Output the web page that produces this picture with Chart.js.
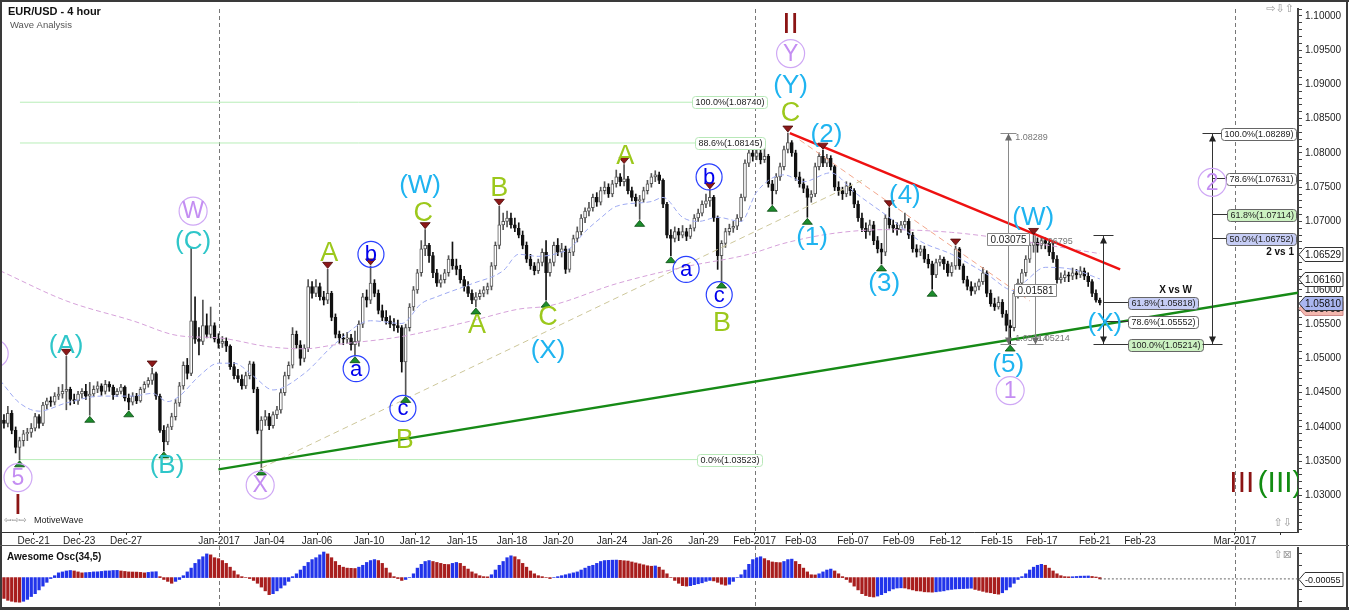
<!DOCTYPE html>
<html><head><meta charset="utf-8">
<script src="https://cdn.jsdelivr.net/npm/chart.js@4.4.1/dist/chart.umd.min.js"></script>
<style>
html,body{margin:0;padding:0;background:#fff;}
#wrap{position:relative;width:1349px;height:610px;overflow:hidden;background:#fff;}
canvas{position:absolute;left:0;}
</style></head><body>
<div id="wrap">
<canvas id="main" width="1349" height="546" style="top:0"></canvas>
<canvas id="osc" width="1349" height="64" style="top:546px"></canvas>
</div>
<script>
// ---------------- DATA (EUR/USD 4 hour, one entry per bar) ----------------
const opens = [1.0450,1.0410,1.0405,1.0420,1.0395,1.0370,1.0380,1.0390,1.0392,1.0398,
1.0415,1.0405,1.0432,1.0438,1.0436,1.0445,1.0448,1.0452,1.0455,1.0440,
1.0438,1.0448,1.0452,1.0445,1.0448,1.0455,1.0460,1.0452,1.0462,1.0458,
1.0447,1.0452,1.0458,1.0442,1.0436,1.0445,1.0438,1.0455,1.0462,1.0468,
1.0478,1.0445,1.0395,1.0378,1.0400,1.0415,1.0435,1.0460,1.0490,1.0478,
1.0555,1.0528,1.0525,1.0548,1.0535,1.0548,1.0528,1.0522,1.0525,1.0518,
1.0488,1.0475,1.0470,1.0460,1.0475,1.0492,1.0455,1.0395,1.0410,1.0415,
1.0402,1.0418,1.0425,1.0450,1.0475,1.0490,1.0535,1.0520,1.0500,1.0515,
1.0605,1.0595,1.0605,1.0590,1.0585,1.0595,1.0560,1.0535,1.0530,1.0528,
1.0530,1.0520,1.0525,1.0550,1.0590,1.0585,1.0610,1.0595,1.0570,1.0560,
1.0555,1.0550,1.0548,1.0545,1.0495,1.0545,1.0575,1.0600,1.0625,1.0660,
1.0665,1.0650,1.0625,1.0610,1.0615,1.0625,1.0645,1.0635,1.0630,1.0615,
1.0605,1.0595,1.0585,1.0590,1.0595,1.0600,1.0605,1.0635,1.0665,1.0695,
1.0700,1.0705,1.0695,1.0690,1.0680,1.0665,1.0645,1.0635,1.0628,1.0640,
1.0655,1.0625,1.0640,1.0665,1.0655,1.0660,1.0630,1.0655,1.0675,1.0685,
1.0705,1.0715,1.0720,1.0735,1.0728,1.0745,1.0750,1.0740,1.0755,1.0765,
1.0758,1.0762,1.0745,1.0735,1.0730,1.0732,1.0745,1.0755,1.0765,1.0768,
1.0760,1.0725,1.0680,1.0675,1.0685,1.0680,1.0685,1.0678,1.0690,1.0705,
1.0712,1.0725,1.0730,1.0735,1.0705,1.0650,1.0668,1.0685,1.0690,1.0693,
1.0705,1.0735,1.0785,1.0800,1.0795,1.0800,1.0790,1.0795,1.0755,1.0745,
1.0765,1.0780,1.0805,1.0815,1.0800,1.0765,1.0755,1.0748,1.0735,1.0740,
1.0780,1.0795,1.0785,1.0792,1.0780,1.0750,1.0745,1.0740,1.0752,1.0745,
1.0725,1.0705,1.0690,1.0685,1.0695,1.0672,1.0660,1.0655,1.0705,1.0695,
1.0690,1.0688,1.0695,1.0700,1.0680,1.0660,1.0655,1.0660,1.0645,1.0638,
1.0622,1.0640,1.0645,1.0638,1.0625,1.0635,1.0660,1.0635,1.0615,1.0605,
1.0598,1.0605,1.0612,1.0625,1.0595,1.0580,1.0575,1.0582,1.0565,1.0548,
1.0545,1.0595,1.0610,1.0625,1.0645,1.0665,1.0670,1.0665,1.0672,1.0668,
1.0655,1.0645,1.0615,1.0618,1.0622,1.0620,1.0625,1.0622,1.0628,1.0620,
1.0612,1.0595,1.0585];

const highs = [1.0460,1.0418,1.0430,1.0424,1.0400,1.0385,1.0395,1.0398,1.0405,1.0420,
1.0418,1.0436,1.0442,1.0444,1.0450,1.0458,1.0462,1.0503,1.0458,1.0448,
1.0452,1.0456,1.0462,1.0465,1.0460,1.0466,1.0463,1.0468,1.0466,1.0461,
1.0456,1.0462,1.0460,1.0448,1.0450,1.0449,1.0458,1.0466,1.0472,1.0486,
1.0480,1.0448,1.0402,1.0404,1.0420,1.0440,1.0465,1.0495,1.0500,1.0662,
1.0590,1.0545,1.0585,1.0565,1.0575,1.0552,1.0536,1.0532,1.0530,1.0520,
1.0494,1.0484,1.0476,1.0480,1.0496,1.0495,1.0458,1.0415,1.0424,1.0420,
1.0422,1.0430,1.0455,1.0480,1.0495,1.0545,1.0540,1.0526,1.0520,1.0615,
1.0612,1.0615,1.0610,1.0598,1.0630,1.0598,1.0565,1.0540,1.0536,1.0538,
1.0535,1.0540,1.0555,1.0595,1.0600,1.0635,1.0615,1.0600,1.0578,1.0570,
1.0562,1.0558,1.0556,1.0548,1.0550,1.0580,1.0605,1.0630,1.0672,1.0688,
1.0668,1.0655,1.0630,1.0622,1.0630,1.0650,1.0670,1.0645,1.0636,1.0620,
1.0612,1.0600,1.0596,1.0600,1.0605,1.0610,1.0640,1.0670,1.0722,1.0712,
1.0715,1.0712,1.0705,1.0698,1.0686,1.0670,1.0652,1.0640,1.0645,1.0660,
1.0672,1.0645,1.0670,1.0675,1.0668,1.0664,1.0660,1.0680,1.0692,1.0710,
1.0720,1.0728,1.0740,1.0742,1.0750,1.0758,1.0755,1.0760,1.0775,1.0770,
1.0783,1.0766,1.0750,1.0740,1.0738,1.0750,1.0760,1.0770,1.0774,1.0772,
1.0762,1.0728,1.0688,1.0692,1.0690,1.0694,1.0690,1.0695,1.0710,1.0718,
1.0730,1.0740,1.0746,1.0738,1.0708,1.0672,1.0690,1.0696,1.0700,1.0710,
1.0740,1.0790,1.0812,1.0815,1.0810,1.0806,1.0812,1.0798,1.0760,1.0770,
1.0785,1.0810,1.0829,1.0818,1.0804,1.0772,1.0762,1.0752,1.0745,1.0785,
1.0800,1.0804,1.0798,1.0796,1.0782,1.0758,1.0750,1.0758,1.0756,1.0748,
1.0730,1.0712,1.0698,1.0702,1.0700,1.0678,1.0668,1.0710,1.0720,1.0702,
1.0698,1.0700,1.0712,1.0704,1.0684,1.0666,1.0665,1.0664,1.0652,1.0642,
1.0645,1.0650,1.0648,1.0642,1.0640,1.0664,1.0662,1.0638,1.0620,1.0612,
1.0610,1.0616,1.0633,1.0628,1.0600,1.0588,1.0590,1.0586,1.0570,1.0556,
1.0600,1.0616,1.0630,1.0650,1.0670,1.06795,1.0676,1.0678,1.0676,1.0672,
1.0670,1.0650,1.0625,1.0628,1.0626,1.0632,1.0630,1.0634,1.0632,1.0625,
1.0615,1.0600,1.0588];

const lows = [1.0405,1.0398,1.0400,1.0390,1.0362,1.0352,1.0372,1.0380,1.0385,1.0394,
1.0398,1.0402,1.0426,1.0430,1.0432,1.0440,1.0442,1.0425,1.0432,1.0434,
1.0433,1.0442,1.0440,1.0417,1.0444,1.0450,1.0446,1.0448,1.0452,1.0440,
1.0444,1.0448,1.0438,1.0425,1.0432,1.0434,1.0436,1.0450,1.0458,1.0462,
1.0440,1.0392,1.0365,1.0374,1.0396,1.0410,1.0430,1.0455,1.0470,1.0475,
1.0522,1.0505,1.0520,1.0530,1.0530,1.0524,1.0515,1.0516,1.0510,1.0484,
1.0470,1.0465,1.0455,1.0456,1.0470,1.0450,1.0390,1.0340,1.0402,1.0396,
1.0398,1.0412,1.0420,1.0446,1.0470,1.0486,1.0515,1.0490,1.0495,1.0510,
1.0588,1.0590,1.0585,1.0578,1.0580,1.0555,1.0530,1.0522,1.0520,1.0522,
1.0512,1.0504,1.0518,1.0545,1.0575,1.0580,1.0590,1.0565,1.0555,1.0550,
1.0545,1.0540,1.0538,1.0480,1.0446,1.0540,1.0570,1.0595,1.0620,1.0650,
1.0640,1.0618,1.0605,1.0604,1.0610,1.0620,1.0630,1.0622,1.0610,1.0598,
1.0590,1.0580,1.0575,1.0586,1.0590,1.0594,1.0600,1.0630,1.0660,1.0688,
1.0692,1.0690,1.0685,1.0676,1.0660,1.0640,1.0630,1.0622,1.0624,1.0635,
1.0585,1.0620,1.0635,1.0650,1.0648,1.0624,1.0626,1.0650,1.0670,1.0680,
1.0698,1.0708,1.0715,1.0722,1.0724,1.0740,1.0735,1.0736,1.0750,1.0752,
1.0752,1.0740,1.0730,1.0722,1.0703,1.0728,1.0740,1.0750,1.0758,1.0755,
1.0720,1.0676,1.0650,1.0670,1.0672,1.0676,1.0672,1.0675,1.0686,1.0700,
1.0708,1.0720,1.0722,1.0700,1.0630,1.0613,1.0662,1.0680,1.0684,1.0688,
1.0700,1.0730,1.0780,1.0788,1.0790,1.0784,1.0786,1.0750,1.0725,1.0740,
1.0760,1.0775,1.0800,1.0795,1.0760,1.0750,1.0742,1.0706,1.0728,1.0736,
1.0775,1.0780,1.0780,1.0775,1.0745,1.0738,1.0732,1.0736,1.0738,1.0720,
1.0700,1.0685,1.0675,1.0680,1.0666,1.0654,1.0638,1.0650,1.0690,1.0684,
1.0680,1.0684,1.0690,1.0675,1.0655,1.0648,1.0650,1.0640,1.0632,1.0601,
1.0618,1.0635,1.0630,1.0620,1.0620,1.0630,1.0630,1.0610,1.0600,1.0592,
1.0594,1.0600,1.0608,1.0590,1.0576,1.0570,1.0572,1.0560,1.0540,1.0521,
1.0540,1.0588,1.0604,1.0620,1.0640,1.0655,1.0655,1.0660,1.0660,1.0650,
1.0640,1.0610,1.0610,1.0612,1.0612,1.0615,1.0616,1.0618,1.0615,1.0605,
1.0590,1.0582,1.0578];

const closes = [1.0410,1.0405,1.0420,1.0395,1.0370,1.0380,1.0390,1.0392,1.0398,1.0415,
1.0405,1.0432,1.0438,1.0436,1.0445,1.0448,1.0452,1.0455,1.0440,1.0438,
1.0448,1.0452,1.0445,1.0448,1.0455,1.0460,1.0452,1.0462,1.0458,1.0447,
1.0452,1.0458,1.0442,1.0436,1.0445,1.0438,1.0455,1.0462,1.0468,1.0478,
1.0445,1.0395,1.0378,1.0400,1.0415,1.0435,1.0460,1.0490,1.0478,1.0555,
1.0528,1.0525,1.0548,1.0535,1.0548,1.0528,1.0522,1.0525,1.0518,1.0488,
1.0475,1.0470,1.0460,1.0475,1.0492,1.0455,1.0395,1.0410,1.0415,1.0402,
1.0418,1.0425,1.0450,1.0475,1.0490,1.0535,1.0520,1.0500,1.0515,1.0605,
1.0595,1.0605,1.0590,1.0585,1.0595,1.0560,1.0535,1.0530,1.0528,1.0530,
1.0520,1.0525,1.0550,1.0590,1.0585,1.0610,1.0595,1.0570,1.0560,1.0555,
1.0550,1.0548,1.0545,1.0495,1.0545,1.0575,1.0600,1.0625,1.0660,1.0665,
1.0650,1.0625,1.0610,1.0615,1.0625,1.0645,1.0635,1.0630,1.0615,1.0605,
1.0595,1.0585,1.0590,1.0595,1.0600,1.0605,1.0635,1.0665,1.0695,1.0700,
1.0705,1.0695,1.0690,1.0680,1.0665,1.0645,1.0635,1.0628,1.0640,1.0655,
1.0625,1.0640,1.0665,1.0655,1.0660,1.0630,1.0655,1.0675,1.0685,1.0705,
1.0715,1.0720,1.0735,1.0728,1.0745,1.0750,1.0740,1.0755,1.0765,1.0758,
1.0762,1.0745,1.0735,1.0730,1.0732,1.0745,1.0755,1.0765,1.0768,1.0760,
1.0725,1.0680,1.0675,1.0685,1.0680,1.0685,1.0678,1.0690,1.0705,1.0712,
1.0725,1.0730,1.0735,1.0705,1.0650,1.0668,1.0685,1.0690,1.0693,1.0705,
1.0735,1.0785,1.0800,1.0795,1.0800,1.0790,1.0795,1.0755,1.0745,1.0765,
1.0780,1.0805,1.0815,1.0800,1.0765,1.0755,1.0748,1.0735,1.0740,1.0780,
1.0795,1.0785,1.0792,1.0780,1.0750,1.0745,1.0740,1.0752,1.0745,1.0725,
1.0705,1.0690,1.0685,1.0695,1.0672,1.0660,1.0655,1.0705,1.0695,1.0690,
1.0688,1.0695,1.0700,1.0680,1.0660,1.0655,1.0660,1.0645,1.0638,1.0622,
1.0640,1.0645,1.0638,1.0625,1.0635,1.0660,1.0635,1.0615,1.0605,1.0598,
1.0605,1.0612,1.0625,1.0595,1.0580,1.0575,1.0582,1.0565,1.0548,1.0545,
1.0595,1.0610,1.0625,1.0645,1.0665,1.0670,1.0665,1.0672,1.0668,1.0655,
1.0645,1.0615,1.0618,1.0622,1.0620,1.0625,1.0622,1.0628,1.0620,1.0612,
1.0595,1.0585,1.0581];

// Awesome Oscillator (34,5), one value per bar
const aoValues = [-0.0080,-0.0088,-0.0096,-0.0100,-0.0103,-0.0104,-0.0100,-0.0092,-0.0080,-0.0068,
-0.0052,-0.0036,-0.0020,-0.0004,0.0008,0.0020,0.0024,0.0028,0.0030,0.0028,
0.0024,0.0020,0.0021,0.0022,0.0024,0.00244,0.0026,0.0028,0.00284,0.0030,
0.00304,0.0028,0.0026,0.0024,0.00236,0.00232,0.0022,0.0020,0.0022,0.0024,
0.00248,0.0004,-0.0008,-0.0016,-0.0024,-0.0016,-0.0008,0.0008,0.0024,0.0040,
0.0060,0.0076,0.0088,0.0100,0.0096,0.0084,0.0080,0.0072,0.0060,0.0044,
0.0028,0.0012,0.0004,0.0000,-0.0004,-0.0012,-0.0024,-0.0040,-0.0056,-0.0072,
-0.0068,-0.0056,-0.0044,-0.0032,-0.0016,0.0004,0.0016,0.0032,0.0048,0.0064,
0.0076,0.0084,0.0096,0.0108,0.0100,0.0084,0.0068,0.0052,0.0044,0.0040,
0.00392,0.00384,0.0044,0.0052,0.0064,0.0072,0.0076,0.0072,0.0060,0.0040,
0.0020,0.0004,-0.0004,-0.0012,-0.0008,0.0000,0.0016,0.0040,0.0056,0.0068,
0.0072,0.0068,0.0064,0.0060,0.0056,0.00552,0.0060,0.0064,0.0060,0.0048,
0.0036,0.0024,0.0016,0.0008,0.0004,0.00032,0.0012,0.0032,0.0052,0.0068,
0.0084,0.0092,0.0088,0.0076,0.0060,0.0044,0.0028,0.0016,0.0008,0.0004,
0.0000,-0.0004,0.0000,0.0004,0.0008,0.0012,0.0016,0.0020,0.0024,0.0032,
0.0040,0.0048,0.0052,0.0060,0.0068,0.0072,0.00728,0.00736,0.0074,0.00728,
0.00712,0.0070,0.0066,0.0062,0.0058,0.0054,0.0050,0.0048,0.00492,0.0044,
0.0032,0.0016,0.0000,-0.0012,-0.0024,-0.0034,-0.0036,-0.0034,-0.0030,-0.0026,
-0.0022,-0.0016,-0.0012,-0.0014,-0.0020,-0.0028,-0.0032,-0.0028,-0.0016,0.0000,
0.0012,0.0032,0.0056,0.0076,0.0084,0.0088,0.0080,0.0072,0.0066,0.0064,
0.00632,0.0068,0.0076,0.0078,0.0068,0.0056,0.0040,0.0024,0.0012,0.00112,
0.0016,0.0024,0.0032,0.0036,0.0028,0.0016,0.0004,-0.0008,-0.0020,-0.0036,
-0.0052,-0.0068,-0.0076,-0.0080,-0.0082,-0.0078,-0.0072,-0.0064,-0.0056,-0.0048,
-0.0044,-0.00432,-0.0044,-0.0048,-0.0052,-0.0056,-0.00568,-0.0060,-0.00608,-0.00616,
-0.0060,-0.0058,-0.0056,-0.0052,-0.0050,-0.0048,-0.00472,-0.00464,-0.00456,-0.00448,
-0.0050,-0.0054,-0.0058,-0.0062,-0.0064,-0.0068,-0.0070,-0.0064,-0.0052,-0.0040,
-0.0024,-0.0008,0.0004,0.0016,0.0032,0.0044,0.0052,0.0056,0.0052,0.0040,
0.0028,0.0016,0.0008,0.0004,0.00032,0.00036,0.00048,0.0006,0.00064,0.00068,
0.00048,0.00024,-0.00055];

// Moving averages (bar index / value)
const fastMaBars = [0,5,10,17,26,34,39,43,46,51,56,60,65,70,78,86,95,103,108,112,121,129,133,138,144,146,150,154,158,167,170,175,179,184,190,194,201,206,213,219,227,236,244,253,260,263,268,275,282];
const fastMaVals = [1.0468,1.0435,1.0423,1.0435,1.0445,1.0445,1.0449,1.0437,1.0445,1.0474,1.0493,1.0493,1.0474,1.0454,1.0478,1.0522,1.0555,1.0551,1.0580,1.0590,1.0609,1.0628,1.0652,1.0649,1.0655,1.0660,1.0685,1.0705,1.0722,1.0729,1.0735,1.0706,1.0700,1.0706,1.0700,1.0743,1.0768,1.0758,1.0771,1.0743,1.0710,1.0671,1.0652,1.0623,1.0599,1.0613,1.0633,1.0630,1.0616];
const slowMaBars = [0,17,34,46,56,69,78,86,103,121,133,141,158,175,192,201,213,227,244,262,282];
const slowMaVals = [1.0628,1.0584,1.0555,1.0533,1.0530,1.0517,1.0514,1.0520,1.0532,1.0555,1.0572,1.0577,1.0609,1.0633,1.0652,1.0668,1.0682,1.0688,1.0684,1.0671,1.0653];

// x axis ticks (position in bars, label)
const xTickPos = [8.6,20.3,32.3,56.15,69.0,81.3,94.6,106.4,118.5,131.3,143.1,156.9,168.5,180.4,193.5,205.3,218.7,230.4,242.4,255.6,267.1,280.7,292.3,316.6,328.4];
const xTickLabels = ['Dec-21','Dec-23','Dec-27','Jan-2017','Jan-04','Jan-06','Jan-10','Jan-12','Jan-15','Jan-18','Jan-20','Jan-24','Jan-26','Jan-29','Feb-2017','Feb-03','Feb-07','Feb-09','Feb-12','Feb-15','Feb-17','Feb-21','Feb-23','Mar-2017',''];
const monthLines = [56.15,193.5,316.6];
// y axis: labelled range
const yLabelRange = [1.030,1.100];

// trend lines [bar, price]
const greenTrend = [[56,1.0338],[332.8,1.0596]];
const redTrend = [[202.5,1.0829],[287.2,1.0630]];
const tanDashed = [[67,1.0340],[221,1.0760]];
const salmonDashed = [[205,1.0819],[264,1.0584]];

// Fibonacci levels
const fibLeftLevels = [1.08740,1.08145,1.03523];
const fibLeftText = ['100.0%(1.08740)','88.6%(1.08145)','0.0%(1.03523)'];
const fibLeftSpan = [5.1,178.7,187.1];   // line start, line end, label centre
const fib21Levels = [1.08289,1.07631,1.07114,1.06752];
const fib21Text = ['100.0%(1.08289)','78.6%(1.07631)','61.8%(1.07114)','50.0%(1.06752)'];
const fib21Fill = ['#ffffff','#ffffff','#ccf2c2','#c6cdf5'];
const fib21Range = [310.8,1.08289,1.05214];
const fibXWLevels = [1.05818,1.05552,1.05214];
const fibXWText = ['61.8%(1.05818)','78.6%(1.05552)','100.0%(1.05214)'];
const fibXWFill = ['#c6cdf5','#ffffff','#ccf2c2'];
const fibXWRange = [282.8,1.06795,1.05214,289.2];
const measureLines = [[258.5,1.08289,1.05214],[265.4,1.06795,1.05214]];
const measureBoxes = [[258.5,1.0674,'0.03075'],[265.4,1.0600,'0.01581']];
const axisMarks = [1.06529,1.06160,1.05810];
const axisMarkFill = ['#ffffff','#ffffff','#aab6f0'];

// wave pivots
const highMarks = [17,39,84,95,109,128,160,182,202,211,228,245,265];
const lowMarks = [5,23,33,42,67,91,104,122,140,164,172,185,198,207,226,239,259];

// wave labels [text, bar, price, style]
const waveLabels = [
 ['I',4.6,1.0287,'brown'],['II',202.7,1.0988,'brown'],['III',318.4,1.0318,'brown'],['(III)',328.2,1.0318,'green'],
 ['5',4.6,1.0326,'violet'],['W',49.5,1.0715,'violet'],['X',66.7,1.0315,'violet'],['Y',202.7,1.0945,'violet'],
 ['1',259.0,1.0453,'violet'],['2',310.8,1.0757,'violet'],['',-1.5,1.0507,'violet'],
 ['(A)',16.9,1.0520,'teal'],['(B)',42.8,1.0344,'teal'],['(C)',49.5,1.0671,'teal'],
 ['(W)',107.7,1.0754,'sky'],['(X)',140.5,1.0513,'sky'],['(Y)',202.7,1.0900,'sky'],['(1)',208.2,1.0678,'sky'],
 ['(2)',211.9,1.0828,'sky'],['(3)',226.7,1.0611,'sky'],['(4)',232.0,1.0739,'sky'],['(5)',258.5,1.0492,'sky'],
 ['(W)',264.9,1.0706,'sky'],['(X)',283.3,1.0552,'sky'],
 ['A',84.4,1.0655,'lime'],['B',103.8,1.0382,'lime'],['C',108.5,1.0713,'lime'],['A',122.3,1.0549,'lime'],
 ['B',128.0,1.0749,'lime'],['C',140.5,1.0561,'lime'],['A',160.3,1.0796,'lime'],['B',185.1,1.0552,'lime'],['C',202.7,1.0859,'lime'],
 ['a',91.3,1.0485,'blue'],['b',95.1,1.0652,'blue'],['c',103.3,1.0427,'blue'],
 ['a',175.9,1.0630,'blue'],['b',181.8,1.0765,'blue'],['c',184.4,1.0593,'blue']
];

// ---------------- RENDERING ----------------
const FONT = "'Liberation Sans', Arial, sans-serif";
const X_MIN = 0.5, X_MAX = 332.8, Y_MIN = 1.02466, Y_MAX = 1.10101;
const waveStyles = {
  brown:{color:'#8b1414',font:'30px '+FONT},
  green:{color:'#128c12',font:'30px '+FONT},
  violet:{color:'#c48ef2',ring:'#cfa8f5',r:14,font:'23px '+FONT},
  teal:{color:'#2fc6c9',font:'26px '+FONT},
  sky:{color:'#1fb4f0',font:'26px '+FONT},
  lime:{color:'#9cc81c',font:'27px '+FONT},
  blue:{color:'#0000ee',ring:'#2a40ff',r:13,font:'22px '+FONT}
};

const idx = opens.map((_, i) => i);
const isUp = idx.map(i => closes[i] >= opens[i]);
const pts = arr => arr.map(p => ({x:p[0], y:p[1]}));

function line(ctx,x1,y1,x2,y2){ctx.beginPath();ctx.moveTo(x1,y1);ctx.lineTo(x2,y2);ctx.stroke();}
function roundRect(ctx,x,y,w,h,r){ctx.beginPath();ctx.moveTo(x+r,y);ctx.arcTo(x+w,y,x+w,y+h,r);ctx.arcTo(x+w,y+h,x,y+h,r);ctx.arcTo(x,y+h,x,y,r);ctx.arcTo(x,y,x+w,y,r);ctx.closePath();}
function boxText(ctx,text,x,y,align,fill,stroke,r,size){
  ctx.font=(size||9)+'px '+FONT;
  const w=ctx.measureText(text).width+6, h=12;
  const left = align==='left'?x:(align==='right'?x-w:x-w/2);
  roundRect(ctx,Math.round(left)+0.5,Math.round(y-h/2)+0.5,Math.round(w),h,r);
  ctx.fillStyle=fill;ctx.fill();ctx.strokeStyle=stroke;ctx.lineWidth=1;ctx.stroke();
  ctx.fillStyle='#222';ctx.textAlign='left';ctx.textBaseline='middle';
  ctx.fillText(text,Math.round(left)+3.5,Math.round(y)+1);
}
function arrowHead(ctx,x,y,dir){ // dir -1 up, +1 down; tip at y
  ctx.beginPath();ctx.moveTo(x,y);ctx.lineTo(x-3.5,y-dir*7);ctx.lineTo(x+3.5,y-dir*7);ctx.closePath();ctx.fill();
}
function tri(ctx,cx,tipY,down){
  ctx.beginPath();
  if(down){ctx.moveTo(cx-5,tipY-6);ctx.lineTo(cx+5,tipY-6);ctx.lineTo(cx,tipY);}
  else{ctx.moveTo(cx-5,tipY+6);ctx.lineTo(cx+5,tipY+6);ctx.lineTo(cx,tipY);}
  ctx.closePath();ctx.fillStyle=down?'#8c1818':'#1c8c2c';ctx.fill();
  ctx.strokeStyle=down?'#4a0808':'#0a4a12';ctx.lineWidth=0.8;ctx.stroke();
}
function axisTag(ctx,x0,y,text,fill,stroke,size){
  ctx.beginPath();ctx.moveTo(x0,y);ctx.lineTo(x0+6,y-7);ctx.lineTo(x0+44,y-7);ctx.lineTo(x0+44,y+7);ctx.lineTo(x0+6,y+7);ctx.closePath();
  ctx.fillStyle=fill;ctx.fill();ctx.strokeStyle=stroke;ctx.lineWidth=1;ctx.stroke();
  ctx.fillStyle='#111';ctx.font=(size||10)+'px '+FONT;ctx.textAlign='left';ctx.textBaseline='middle';ctx.fillText(text,x0+6,y+1);
}

const mainAnno = {
  id:'mainAnno',
  beforeDatasetsDraw(chart){
    const {ctx,chartArea:a,scales:{x}}=chart;
    ctx.save();
    ctx.strokeStyle='#777';ctx.lineWidth=1;ctx.setLineDash([4,3]);
    monthLines.forEach(v=>{const px=Math.round(x.getPixelForValue(v))+0.5;line(ctx,px,a.top,px,a.bottom);});
    ctx.restore();
  },
  afterDatasetsDraw(chart){
    const {ctx,chartArea:a,scales:{x,y}}=chart;
    const X=v=>x.getPixelForValue(v), Y=v=>y.getPixelForValue(v);
    ctx.save();
    ctx.beginPath();ctx.rect(a.left,a.top,a.right-a.left,a.bottom-a.top);ctx.clip();

    fibLeftLevels.forEach((lv,k)=>boxText(ctx,fibLeftText[k],X(fibLeftSpan[2]),Y(lv),'center','#ffffff','#b8e8b8',3,9));

    ctx.strokeStyle='#8a8a8a';ctx.fillStyle='#6a6a6a';ctx.lineWidth=1;
    measureLines.forEach((m,k)=>{
      const px=Math.round(X(m[0]))+0.5, pt=Math.round(Y(m[1]))+0.5, pb=Math.round(Y(m[2]))+0.5;
      line(ctx,px,pt,px,pb);
      line(ctx,px-8,pb,px+8,pb);
      arrowHead(ctx,px,pb,1);
      if(k===0){line(ctx,px-8,pt,px+8,pt);ctx.fillStyle='#6a6a6a';arrowHead(ctx,px,pt,-1);}
    });
    ctx.font='9px '+FONT;ctx.fillStyle='#777';ctx.textAlign='left';ctx.textBaseline='middle';
    ctx.fillText(measureLines[0][1].toFixed(5),X(measureLines[0][0])+7,Y(measureLines[0][1])+4);
    ctx.fillText(measureLines[1][1].toFixed(5),X(measureLines[1][0])+5,Y(measureLines[1][1])+6);
    ctx.fillText(measureLines[0][2].toFixed(5),X(measureLines[0][0])+7,Y(measureLines[0][2])-5);
    ctx.fillText(measureLines[1][2].toFixed(5),X(measureLines[1][0])+2,Y(measureLines[1][2])-5);
    measureBoxes.forEach(b=>boxText(ctx,b[2],X(b[0]),Y(b[1]),'center','#ffffff','#888888',0,10));

    ctx.strokeStyle='#333';ctx.fillStyle='#222';ctx.lineWidth=1;
    {
      const px=Math.round(X(fibXWRange[0]))+0.5, pt=Math.round(Y(fibXWRange[1]))+0.5, pb=Math.round(Y(fibXWRange[2]))+0.5, bx=X(fibXWRange[3]);
      line(ctx,px,pt,px,pb);line(ctx,px-10,pt,px+10,pt);line(ctx,px-10,pb,px+10,pb);
      arrowHead(ctx,px,pt+1,-1);arrowHead(ctx,px,pb-1,1);
      fibXWLevels.forEach((lv,k)=>{const py=Math.round(Y(lv))+0.5;ctx.strokeStyle='#333';line(ctx,px,py,bx,py);
        boxText(ctx,fibXWText[k],bx,py,'left',fibXWFill[k],'#666',3,9);});
      ctx.font='bold 10px '+FONT;ctx.fillStyle='#111';ctx.textAlign='right';ctx.textBaseline='middle';
      ctx.fillText('X vs W',bx+64,Y(fibXWLevels[0])-12);
    }
    {
      ctx.strokeStyle='#333';ctx.fillStyle='#222';
      const px=Math.round(X(fib21Range[0]))+0.5, pt=Math.round(Y(fib21Range[1]))+0.5, pb=Math.round(Y(fib21Range[2]))+0.5, rx=a.right-2;
      line(ctx,px,pt,px,pb);line(ctx,px-10,pt,px+10,pt);line(ctx,px-10,pb,px+10,pb);
      arrowHead(ctx,px,pt+1,-1);arrowHead(ctx,px,pb-1,1);
      fib21Levels.forEach((lv,k)=>{const py=Math.round(Y(lv))+0.5;ctx.strokeStyle='#333';line(ctx,px,py,rx-60,py);
        boxText(ctx,fib21Text[k],rx,py,'right',fib21Fill[k],'#666',3,9);});
      ctx.font='bold 10px '+FONT;ctx.fillStyle='#111';ctx.textAlign='right';ctx.textBaseline='middle';
      ctx.fillText('2 vs 1',rx-2,Y(fib21Levels[3])+14);
    }

    highMarks.forEach(i=>tri(ctx,X(i),Y(highs[i])-1,true));
    lowMarks.forEach(i=>tri(ctx,X(i),Y(lows[i])+1,false));

    waveLabels.forEach(w=>{
      const s=waveStyles[w[3]], px=X(w[1]), py=Y(w[2]);
      if(s.r){ctx.beginPath();ctx.arc(px,py,s.r,0,Math.PI*2);ctx.strokeStyle=s.ring;ctx.lineWidth=1.2;ctx.stroke();}
      ctx.font=s.font;ctx.fillStyle=s.color;ctx.textAlign='center';ctx.textBaseline='middle';
      ctx.fillText(w[0],px,py+1);
    });
    ctx.restore();
  },
  afterDraw(chart){
    const {ctx,chartArea:a,scales:{y}}=chart;
    ctx.save();
    ctx.textAlign='left';ctx.textBaseline='middle';
    ctx.font='bold 11px '+FONT;ctx.fillStyle='#111';ctx.fillText('EUR/USD - 4 hour',8,12);
    ctx.font='9.5px '+FONT;ctx.fillStyle='#555';ctx.fillText('Wave Analysis',10,25);
    ctx.font='9px '+FONT;ctx.fillStyle='#222';ctx.fillText('MotiveWave',34,521);
    ctx.font='9px DejaVu Sans';ctx.fillStyle='#888';ctx.fillText('\u21E6\u21E8\u21E8',4,521);
    ctx.font='11px DejaVu Sans';ctx.fillStyle='#999';ctx.textAlign='right';
    ctx.fillText('\u21E8\u21E9\u21E7',a.right-4,9);
    ctx.fillText('\u21E7\u21E9',a.right-6,523);
    const yLast=Math.round(y.getPixelForValue(axisMarks[2]))+0.5;
    axisTag(ctx,a.right+1,yLast+5,'1.05705','#f3b7ae','#c88');
    axisMarks.forEach((v,k)=>axisTag(ctx,a.right+1,Math.round(y.getPixelForValue(v))+0.5,v.toFixed(5),axisMarkFill[k],'#333'));
    ctx.fillStyle='#3a3a3a';
    ctx.fillRect(0,0,1349,2);ctx.fillRect(0,0,2,546);ctx.fillRect(1346,0,2,546);
    ctx.fillStyle='#555';ctx.fillRect(0,545,1349,1);
    ctx.restore();
  }
};

new Chart(document.getElementById('main'),{
  type:'bar',
  data:{datasets:[
    {label:'wick',data:idx.map(i=>({x:i,y:[lows[i],highs[i]]})),backgroundColor:idx.map(i=>isUp[i]?'#555':'#111'),barThickness:1,grouped:false,order:10},
    {label:'body',data:idx.map(i=>({x:i,y:[opens[i],closes[i]]})),backgroundColor:idx.map(i=>isUp[i]?'#ffffff':'#111'),borderColor:idx.map(i=>isUp[i]?'#555':'#111'),borderWidth:1,borderSkipped:false,barThickness:3,minBarLength:1,grouped:false,order:9},
    {type:'line',label:'fastMA',data:fastMaBars.map((b,k)=>({x:b,y:fastMaVals[k]})),borderColor:'#9eaaf2',borderWidth:1,borderDash:[5,3],pointRadius:0,tension:0.4,cubicInterpolationMode:'monotone',order:6},
    {type:'line',label:'slowMA',data:slowMaBars.map((b,k)=>({x:b,y:slowMaVals[k]})),borderColor:'#d6a2da',borderWidth:1,borderDash:[5,3],pointRadius:0,tension:0.4,cubicInterpolationMode:'monotone',order:6},
    ...fibLeftLevels.map(lv=>({type:'line',data:[{x:fibLeftSpan[0],y:lv},{x:fibLeftSpan[1],y:lv}],borderColor:'#b8eeb8',borderWidth:1,pointRadius:0,order:11})),
    {type:'line',data:pts(tanDashed),borderColor:'#cdc79a',borderWidth:1,borderDash:[6,4],pointRadius:0,order:7},
    {type:'line',data:pts(salmonDashed),borderColor:'#f2a68c',borderWidth:1,borderDash:[6,4],pointRadius:0,order:7},
    {type:'line',data:pts(greenTrend),borderColor:'#168a16',borderWidth:2.5,pointRadius:0,order:2},
    {type:'line',data:pts(redTrend),borderColor:'#ee1111',borderWidth:2.5,pointRadius:0,order:2}
  ]},
  options:{
    responsive:false,animation:false,devicePixelRatio:1,
    layout:{padding:{left:2,top:3,right:3,bottom:0}},
    plugins:{legend:{display:false},tooltip:{enabled:false}},
    scales:{
      x:{type:'linear',min:X_MIN,max:X_MAX,offset:false,
        afterBuildTicks:s=>{s.ticks=xTickPos.map(v=>({value:v}));},
        afterFit:s=>{s.height=14;},
        ticks:{autoSkip:false,maxRotation:0,padding:0,color:'#222',font:{family:FONT,size:10},callback:(v,i)=>xTickLabels[i]},
        grid:{drawOnChartArea:false,drawTicks:true,tickLength:3,tickColor:'#333',offset:false},
        border:{display:true,color:'#333',width:1}},
      y:{type:'linear',position:'right',min:Y_MIN,max:Y_MAX,
        afterBuildTicks:s=>{const t=[];for(let k=1025;k<=1101;k++)t.push({value:k/1000});s.ticks=t;},
        afterFit:s=>{s.width=48;},
        ticks:{autoSkip:false,padding:3,color:'#222',font:{family:FONT,size:10},
          callback:v=>(Math.round(v*1000)%5===0 && v>=yLabelRange[0]-1e-9 && v<=yLabelRange[1]+1e-9)?v.toFixed(5):''},
        grid:{drawOnChartArea:false,drawTicks:true,tickLength:4,tickColor:'#444'},
        border:{display:true,color:'#444',width:2}}
    }
  },
  plugins:[mainAnno]
});

const aoColors = aoValues.map((v,i)=> (i>0 && v<aoValues[i-1]) ? '#a81e1e' : '#2234ea');
const oscAnno = {
  id:'oscAnno',
  beforeDatasetsDraw(chart){
    const {ctx,chartArea:a,scales:{x}}=chart;
    ctx.save();ctx.strokeStyle='#777';ctx.lineWidth=1;ctx.setLineDash([4,3]);
    monthLines.forEach(v=>{const px=Math.round(x.getPixelForValue(v))+0.5;line(ctx,px,0,px,a.bottom);});
    ctx.restore();
  },
  afterDraw(chart){
    const {ctx,chartArea:a,scales:{y}}=chart;
    ctx.save();
    ctx.font='bold 10px '+FONT;ctx.fillStyle='#111';ctx.textAlign='left';ctx.textBaseline='middle';
    ctx.fillText('Awesome Osc(34,5)',7,11);
    ctx.font='11px DejaVu Sans';ctx.fillStyle='#999';ctx.textAlign='right';ctx.fillText('\u21E7\u22A0',a.right-6,9);
    const last=aoValues[aoValues.length-1];
    axisTag(ctx,a.right+1,Math.round(y.getPixelForValue(last))+0.5,last.toFixed(5),'#ffffff','#333',9);
    ctx.fillStyle='#3a3a3a';ctx.fillRect(0,0,2,64);ctx.fillRect(1346,0,2,64);ctx.fillRect(0,61,1349,3);
    ctx.restore();
  }
};
new Chart(document.getElementById('osc'),{
  type:'bar',
  data:{datasets:[
    {data:aoValues.map((v,i)=>({x:i,y:v})),backgroundColor:aoColors,barThickness:2.6,grouped:false,order:2},
    {type:'line',data:[{x:aoValues.length-1,y:aoValues[aoValues.length-1]},{x:X_MAX,y:aoValues[aoValues.length-1]}],borderColor:'#666',borderWidth:1,borderDash:[2,2],pointRadius:0,order:1}
  ]},
  options:{
    responsive:false,animation:false,devicePixelRatio:1,
    layout:{padding:{left:2,top:2,right:3,bottom:4}},
    plugins:{legend:{display:false},tooltip:{enabled:false}},
    scales:{
      x:{type:'linear',min:X_MIN,max:X_MAX,display:false,offset:false,grid:{offset:false}},
      y:{type:'linear',position:'right',min:-0.012,max:0.0125,
        afterBuildTicks:s=>{s.ticks=[-0.01,-0.005,0.005,0.01].map(v=>({value:v}));},
        afterFit:s=>{s.width=48;},
        ticks:{display:false},
        grid:{drawOnChartArea:false,drawTicks:true,tickLength:4,tickColor:'#444'},
        border:{display:true,color:'#444',width:2}}
    }
  },
  plugins:[oscAnno]
});
</script>
</body></html>
